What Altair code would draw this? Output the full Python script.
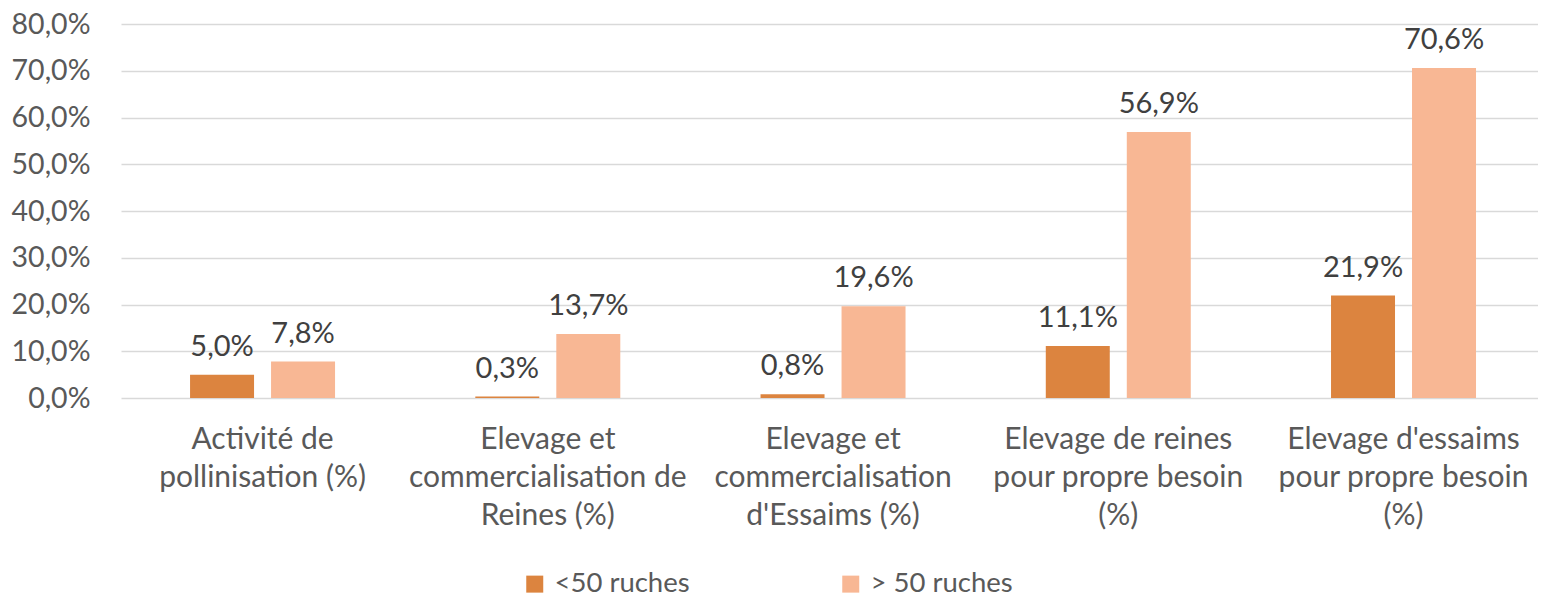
import altair as alt
import pandas as pd

categories = [
    "Activité de|pollinisation (%)",
    "Elevage et|commercialisation de|Reines (%)",
    "Elevage et|commercialisation|d'Essaims (%)",
    "Elevage de reines|pour propre besoin|(%)",
    "Elevage d'essaims|pour propre besoin|(%)",
]
series = ["<50 ruches", "> 50 ruches"]
small_values = [5.0, 0.3, 0.8, 11.1, 21.9]
large_values = [7.8, 13.7, 19.6, 56.9, 70.6]
colors = ["#DC843F", "#F8B794"]
y_ticks = [0, 10, 20, 30, 40, 50, 60, 70, 80]

rows = []
for s, vals in zip(series, [small_values, large_values]):
    for c, v in zip(categories, vals):
        rows.append({"cat": c, "series": s, "value": v,
                     "label": f"{v:.1f}".replace(".", ",") + "%"})
df = pd.DataFrame(rows)

FONT = "Lato"

x = alt.X("cat:N", sort=categories,
          scale=alt.Scale(paddingInner=0.4917, paddingOuter=0.2297, align=0.527),
          axis=alt.Axis(title=None, labelExpr="split(datum.label, '|')",
                        labelAngle=0, labelFontSize=30, labelColor="#595959",
                        labelFont=FONT, labelLineHeight=38, labelPadding=26,
                        ticks=False, domain=False, labelLimit=400,
                        labelBaseline="top"))
xo = alt.XOffset("series:N", sort=series, scale=alt.Scale(paddingInner=0.21))
y = alt.Y("value:Q", scale=alt.Scale(domain=[0, 80], nice=False),
          axis=alt.Axis(values=y_ticks, title=None,
                        labelExpr="replace(format(datum.value, '.1f'), '.', ',') + '%'",
                        grid=True, gridColor="#d9d9d9", gridWidth=1.3,
                        domain=False, ticks=False, labelPadding=31,
                        labelFontSize=28.5, labelColor="#595959", labelFont=FONT))

bars = alt.Chart(df).mark_bar().encode(
    x=x, xOffset=xo, y=y,
    color=alt.Color("series:N", sort=series,
                    scale=alt.Scale(domain=series, range=colors),
                    legend=alt.Legend(title=None, orient="none", legendX=400,
                                      legendY=546, direction="horizontal",
                                      symbolType="square", symbolSize=289,
                                      symbolStrokeWidth=0, labelFontSize=27.5,
                                      labelColor="#595959", labelFont=FONT,
                                      columnPadding=147, labelOffset=6)),
)
texts = alt.Chart(df).mark_text(dy=-19, baseline="alphabetic", fontSize=29,
                                color="#404040", font=FONT).encode(
    x=x, xOffset=xo, y=y, text="label:N")

chart = alt.layer(bars, texts).properties(
    width=1417, height=374,
    autosize=alt.AutoSizeParams(type="none"),
    padding={"left": 113, "top": 16, "right": 0, "bottom": 202},
).configure_view(stroke=None)

chart.save("out.html", embed_options={"renderer": "svg", "actions": False})
